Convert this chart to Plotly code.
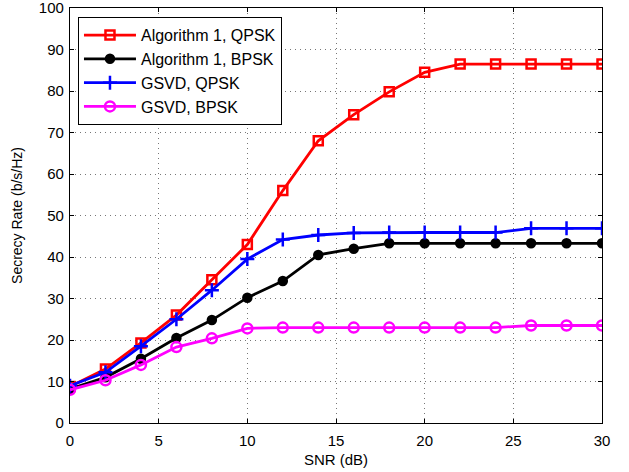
import plotly.graph_objects as go

snr = [0, 2, 4, 6, 8, 10, 12, 14, 16, 18, 20, 22, 24, 26, 28, 30]
alg1_qpsk = [8.8, 13.0, 19.3, 26.0, 34.5, 43.0, 56.0, 68.0, 74.3, 79.8, 84.5, 86.5, 86.5, 86.5, 86.5, 86.5]
alg1_bpsk = [8.2, 11.0, 15.5, 20.5, 24.8, 30.2, 34.2, 40.5, 42.0, 43.3, 43.3, 43.3, 43.3, 43.3, 43.3, 43.3]
gsvd_qpsk = [9.0, 12.2, 18.5, 25.0, 32.0, 39.5, 44.2, 45.3, 45.8, 45.9, 45.9, 45.9, 45.9, 46.9, 46.9, 46.9]
gsvd_bpsk = [8.0, 10.3, 14.0, 18.3, 20.4, 22.8, 23.0, 23.0, 23.0, 23.0, 23.0, 23.0, 23.0, 23.5, 23.5, 23.5]
x_ticks = [0, 5, 10, 15, 20, 25, 30]
y_ticks = [0, 10, 20, 30, 40, 50, 60, 70, 80, 90, 100]

series = [
    ("Algorithm 1, QPSK", alg1_qpsk, "#ff0000", "square-open", 9),
    ("Algorithm 1, BPSK", alg1_bpsk, "#000000", "circle", 8),
    ("GSVD, QPSK", gsvd_qpsk, "#0000ff", "cross-thin-open", 10),
    ("GSVD, BPSK", gsvd_bpsk, "#ff00ff", "circle-open", 10),
]

fig = go.Figure()
for name, vals, col, sym, sz in series:
    fig.add_trace(go.Scatter(
        x=snr, y=vals, name=name, mode="lines+markers",
        line=dict(color=col, width=2.8),
        marker=dict(symbol=sym, size=sz, color=col, line=dict(color=col, width=2.5)),
    ))

axis_common = dict(
    showline=True, linecolor="black", linewidth=1.2, mirror="ticks",
    ticks="inside", ticklen=4, tickcolor="black",
    showgrid=True, gridcolor="#777777", griddash="1px,4px", gridwidth=1,
    zeroline=False, tickfont=dict(size=15, color="black"),
    ticklabeloverflow="allow",
)

fig.update_xaxes(range=[0, 30], tickvals=x_ticks, ticklabelstandoff=4,
                 title=dict(text="SNR (dB)", font=dict(size=15, color="black"), standoff=6),
                 **axis_common)
fig.update_yaxes(range=[0, 100], tickvals=y_ticks, ticklabelstandoff=2,
                 title=dict(text="Secrecy Rate (b/s/Hz)", font=dict(size=14, color="black"), standoff=12),
                 **axis_common)

fig.update_layout(
    width=629, height=472,
    margin=dict(l=70, r=27, t=8, b=49, autoexpand=False),
    paper_bgcolor="white", plot_bgcolor="white",
    font=dict(family="Liberation Sans, Arial, sans-serif", size=15, color="black"),
    legend=dict(x=0.015, y=0.978, xanchor="left", yanchor="top",
                bgcolor="white", bordercolor="black", borderwidth=1,
                font=dict(size=16), tracegroupgap=0, itemwidth=52),
    showlegend=True,
)

fig.write_html("out.html")
